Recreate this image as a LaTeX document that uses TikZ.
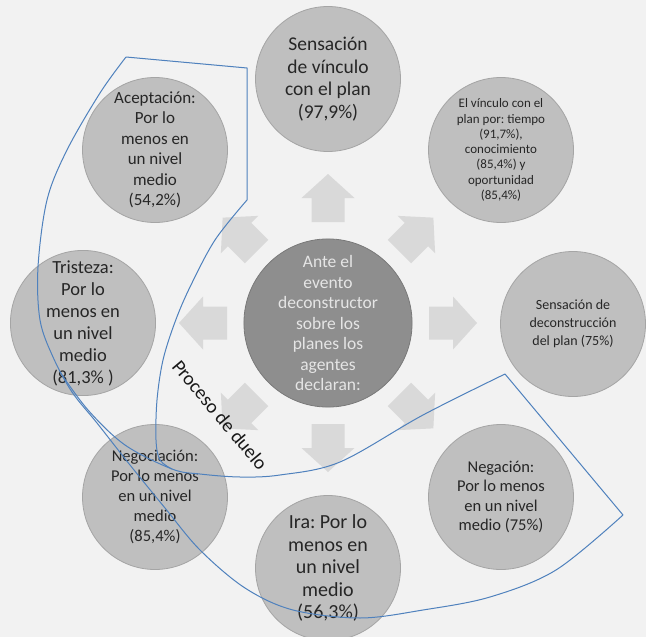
\documentclass[tikz,border=0pt]{standalone}
\usepackage{fontspec}
\setmainfont{Carlito}
\usepackage{tikz}
\usetikzlibrary{positioning}
\frenchspacing
\definecolor{paper}{HTML}{F2F2F2}
\definecolor{stagefill}{HTML}{BFBFBF}
\definecolor{stageline}{HTML}{A5A5A5}
\definecolor{hubfill}{HTML}{8E8E8E}
\definecolor{flow}{HTML}{D9D9D9}
\definecolor{duelo}{HTML}{4F81BD}

\begin{document}
\begin{tikzpicture}[
  x=1pt, y=-1pt,
  stage/.style={circle, draw=stageline, fill=stagefill, line width=0.8pt,
                minimum size=145pt, inner sep=0pt, align=center, text=black!85},
  hub/.style={circle, draw=hubfill!85!black, fill=hubfill, line width=0.8pt,
              minimum size=160pt, inner sep=0pt, align=center, text=white!90!black},
  flowarrow/.style={fill=flow, draw=none},
  grief/.style={draw=duelo, line width=1pt, line join=round},
]
\useasboundingbox[fill=paper] (0,0) rectangle (646,637);

% Centre: what the agents declare in front of the deconstructing event.
\node[hub, font={\fontsize{17.5}{20.5}\selectfont}] (hub) at (328,323)
  {Ante el\\evento\\deconstructor\\sobre los\\planes los\\agentes\\declaran:};

% Eight block arrows pointing out of the centre.
\foreach \a in {0,45,...,315} {
  \begin{scope}[shift={(hub.center)}, rotate=\a]
    \fill[flowarrow] (101,-16.5) -- (125,-16.5) -- (125,-26.5) -- (149,0)
      -- (125,26.5) -- (125,16.5) -- (101,16.5) -- cycle;
  \end{scope}
}

% Ring of answers, clockwise from the top.
\node[stage, font={\fontsize{19.5}{22.5}\selectfont}] (vinculo) at (328,79)
  {Sensación\\de vínculo\\con el plan\\(97,9\%)};
\node[stage, font={\fontsize{13}{15.3}\selectfont}] (tiempo) at (501,150)
  {El vínculo con el\\plan por: tiempo\\(91,7\%),\\conocimiento\\(85,4\%) y\\oportunidad\\(85,4\%)};
\node[stage, font={\fontsize{14}{18}\selectfont}] (decons) at (573,324)
  {Sensación de\\deconstrucción\\del plan (75\%)};
\node[stage, font={\fontsize{16.5}{19.5}\selectfont}] (negacion) at (501,497)
  {Negación:\\Por lo menos\\en un nivel\\medio (75\%)};
\node[stage, font={\fontsize{20}{22.5}\selectfont}] (ira) at (328,568)
  {Ira: Por lo\\menos en\\un nivel\\medio\\(56,3\%)};
\node[stage, font={\fontsize{16.5}{20}\selectfont}] (negociacion) at (155,497)
  {Negociación:\\Por lo menos\\en un nivel\\medio\\(85,4\%)};
\node[stage, font={\fontsize{18.5}{22}\selectfont}] (tristeza) at (83,323)
  {Tristeza:\\Por lo\\menos en\\un nivel\\medio\\(81,3\% )};
\node[stage, font={\fontsize{17}{20.5}\selectfont}] (aceptacion) at (155,150)
  {Aceptación:\\Por lo\\menos en\\un nivel\\medio\\(54,2\%)};

% Grief band: outer edge from the top down round to the right end.
\draw[grief] plot[smooth, tension=0.55] coordinates {(126,57) (100,93) (67,150)
  (47,200) (38,267) (40,320) (53,357) (72,392) (97,423) (130,465) (165,508)
  (200,550) (245,588) (293,610) (360,618) (423,610) (490,597) (556,570) (623,515)};
% upper end and inner edge of the upper part
\draw[grief] (126,57) -- (247,68) -- (247,200) -- plot[smooth, tension=0.55]
  coordinates {(247,200) (215,240) (190,287) (175,322) (163,360) (157,400)
  (156,440) (160,460) (172,469)};
% lower end and inner edge of the lower part
\draw[grief] (623,515) -- (505,374) -- plot[smooth, tension=0.55]
  coordinates {(505,374) (423,415) (340,462) (280,475) (240,477) (200,474)
  (172,469) (125,445) (88,410) (60,372)};
\node[rotate=-50, font={\fontsize{19.5}{21}\selectfont}, text=black!90] (duelo) at (220,415)
  {Proceso de duelo};
\end{tikzpicture}
\end{document}
